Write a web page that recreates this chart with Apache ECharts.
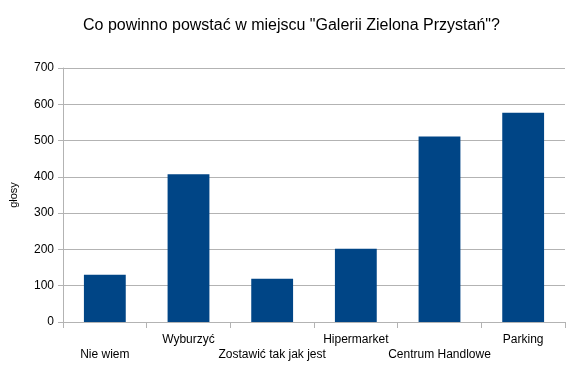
<!DOCTYPE html>
<html>
<head>
<meta charset="utf-8">
<script src="https://cdn.jsdelivr.net/npm/echarts@6/dist/echarts.min.js"></script>
<style>
html,body{margin:0;padding:0;background:#fff;}
#chart{width:583px;height:377px;}
</style>
</head>
<body>
<div id="chart"></div>
<script>
const titleText = 'Co powinno powstać w miejscu "Galerii Zielona Przystań"?';
const categories = ['Nie wiem', 'Wyburzyć', 'Zostawić tak jak jest', 'Hipermarket', 'Centrum Handlowe', 'Parking'];
const votes = [130, 407, 119, 202, 511, 577];
const yTicks = { min: 0, max: 700, interval: 100 };
const yName = 'głosy';

const font = '"Liberation Sans", Arial, sans-serif';
const chart = echarts.init(document.getElementById('chart'), null, { renderer: 'canvas' });
chart.setOption({
  animation: false,
  backgroundColor: '#ffffff',
  textStyle: { fontFamily: font },
  title: {
    text: titleText,
    left: 'center',
    top: 13,
    textStyle: { fontFamily: font, fontSize: 16, fontWeight: 'normal', color: '#000' }
  },
  grid: { left: 61, right: 18, top: 68, bottom: 55, containLabel: false },
  xAxis: {
    type: 'category',
    data: categories,
    axisLine: { lineStyle: { color: '#b3b3b3' } },
    axisTick: { show: true, length: 6, lineStyle: { color: '#b3b3b3' } },
    axisLabel: {
      interval: 0,
      margin: 10,
      fontFamily: font,
      fontSize: 12,
      color: '#000',
      lineHeight: 15,
      formatter: function (v, i) { return i % 2 === 0 ? '\n' + v : v; }
    },
    splitLine: { show: false }
  },
  yAxis: {
    type: 'value',
    min: yTicks.min,
    max: yTicks.max,
    interval: yTicks.interval,
    name: yName,
    nameLocation: 'middle',
    nameGap: 44,
    nameRotate: 90,
    nameTextStyle: { fontFamily: font, fontSize: 11, color: '#000' },
    axisLine: { show: true, lineStyle: { color: '#b3b3b3' } },
    axisTick: { show: true, length: 5, lineStyle: { color: '#b3b3b3' } },
    axisLabel: { margin: 9, fontFamily: font, fontSize: 12, color: '#000' },
    splitLine: { show: true, lineStyle: { color: '#b3b3b3' } }
  },
  series: [{
    type: 'bar',
    data: votes,
    barWidth: '50%',
    itemStyle: { color: '#004586' }
  }]
});
</script>
</body>
</html>
